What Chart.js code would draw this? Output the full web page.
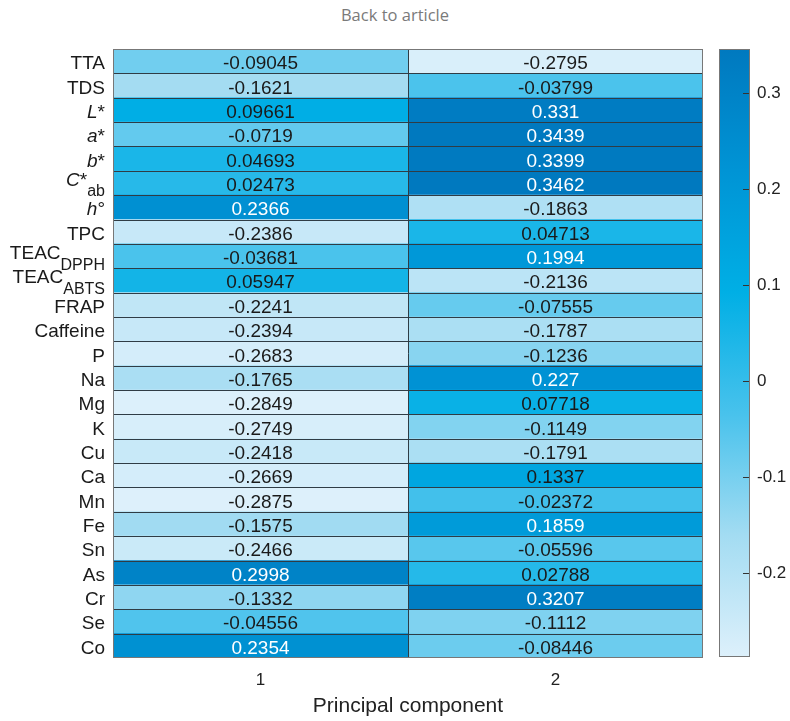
<!DOCTYPE html>
<html>
<head>
<meta charset="utf-8">
<script src="https://cdn.jsdelivr.net/npm/chart.js@4.4.1/dist/chart.umd.min.js"></script>
<style>
  html, body { margin: 0; padding: 0; background: #fff; }
  #wrap { position: relative; width: 790px; height: 721px; overflow: hidden; }
  #back { position: absolute; left: 0; top: 3px; width: 790px; text-align: center;
          font: 16.5px "Open Sans", sans-serif; color: #7a7a7a; }
  #main { position: absolute; left: 0; top: 0; }
  #cbar { position: absolute; left: 700px; top: 0; }
</style>
</head>
<body>
<div id="wrap">
  <div id="back">Back to article</div>
  <canvas id="main" width="712" height="721"></canvas>
  <canvas id="cbar" width="90" height="721"></canvas>
</div>
<script>
// Loadings of each variable on the first two principal components
const categories = ['TTA', 'TDS', 'L*', 'a*', 'b*', 'C*ab', 'h°', 'TPC', 'TEAC DPPH', 'TEAC ABTS',
  'FRAP', 'Caffeine', 'P', 'Na', 'Mg', 'K', 'Cu', 'Ca', 'Mn', 'Fe', 'Sn', 'As', 'Cr', 'Se', 'Co'];
const components = [1, 2];
const pc1 = [-0.09045, -0.1621, 0.09661, -0.0719, 0.04693, 0.02473, 0.2366, -0.2386, -0.03681, 0.05947,
  -0.2241, -0.2394, -0.2683, -0.1765, -0.2849, -0.2749, -0.2418, -0.2669, -0.2875, -0.1575,
  -0.2466, 0.2998, -0.1332, -0.04556, 0.2354];
const pc2 = [-0.2795, -0.03799, 0.331, 0.3439, 0.3399, 0.3462, -0.1863, 0.04713, 0.1994, -0.2136,
  -0.07555, -0.1787, -0.1236, 0.227, 0.07718, -0.1149, -0.1791, 0.1337, -0.02372, 0.1859,
  -0.05596, 0.02788, 0.3207, -0.1112, -0.08446];
const colorbarTicks = [-0.2, -0.1, 0, 0.1, 0.2, 0.3];

const series = [pc1, pc2];
const cmin = Math.min(...pc1, ...pc2);
const cmax = Math.max(...pc1, ...pc2);

// Formatted pieces for labels with italics / subscripts: i = italic, n = normal, s = subscript
const labelParts = {
  'L*': [['L', 'i'], ['*', 'n']],
  'a*': [['a', 'i'], ['*', 'n']],
  'b*': [['b', 'i'], ['*', 'n']],
  'C*ab': [['C', 'i'], ['*', 'n'], ['ab', 's']],
  'h°': [['h', 'i'], ['°', 'n']],
  'TEAC DPPH': [['TEAC', 'n'], ['DPPH', 's']],
  'TEAC ABTS': [['TEAC', 'n'], ['ABTS', 's']]
};

const FAMILY = '"Liberation Sans", Arial, Helvetica, sans-serif';
Chart.defaults.font.family = FAMILY;

// Light-to-dark blue colour map
const cmapStops = [
  [0.0, [221, 240, 251]],
  [0.2, [163, 220, 242]],
  [0.4, [72, 194, 236]],
  [0.6, [0, 175, 229]],
  [0.8, [0, 148, 213]],
  [1.0, [0, 121, 191]]
];
function rgb(c) { return 'rgb(' + c.map(Math.round).join(',') + ')'; }
function colorFor(v) {
  const t = Math.max(0, Math.min(1, (v - cmin) / (cmax - cmin)));
  for (let k = 1; k < cmapStops.length; k++) {
    const [t1, c1] = cmapStops[k];
    const [t0, c0] = cmapStops[k - 1];
    if (t <= t1) {
      const f = (t - t0) / (t1 - t0);
      return rgb(c0.map((a, j) => a + (c1[j] - a) * f));
    }
  }
  return rgb(cmapStops[cmapStops.length - 1][1]);
}

function fontStr(kind) {
  if (kind === 'i') return 'italic 19px ' + FAMILY;
  if (kind === 's') return '16px ' + FAMILY;
  return '19px ' + FAMILY;
}

// Cell grid, value text and row labels
const heatmapDecor = {
  id: 'heatmapDecor',
  afterDatasetsDraw(chart) {
    const { ctx, chartArea: a, scales: { x, y } } = chart;
    ctx.save();
    // inner cell lines
    ctx.strokeStyle = '#2f3c45';
    ctx.lineWidth = 1;
    ctx.beginPath();
    for (let i = 1; i < categories.length; i++) {
      const yy = Math.round((y.getPixelForValue(i - 1) + y.getPixelForValue(i)) / 2) + 0.5;
      ctx.moveTo(a.left, yy);
      ctx.lineTo(a.right, yy);
    }
    for (let c = 1; c < components.length; c++) {
      const xx = Math.round(x.getPixelForValue(components[c - 1] + 0.5)) + 0.5;
      ctx.moveTo(xx, a.top);
      ctx.lineTo(xx, a.bottom);
    }
    ctx.stroke();
    // outer frame
    ctx.strokeStyle = '#777';
    ctx.strokeRect(a.left + 0.5, a.top + 0.5, a.width - 1, a.height - 1);

    // values inside the cells
    ctx.textAlign = 'center';
    ctx.textBaseline = 'alphabetic';
    ctx.font = '19px ' + FAMILY;
    chart.data.datasets.forEach((ds, k) => {
      const meta = chart.getDatasetMeta(k);
      meta.data.forEach((bar, i) => {
        const v = series[k][i];
        const p = bar.getCenterPoint();
        ctx.fillStyle = v > 0.15 ? '#ffffff' : '#1a1a1a';
        ctx.fillText(String(v), p.x, p.y + 8);
      });
    });

    // row labels
    ctx.textAlign = 'left';
    ctx.fillStyle = '#1a1a1a';
    const rightEdge = a.left - 8;
    categories.forEach((lab, i) => {
      const cy = y.getPixelForValue(i);
      const parts = labelParts[lab] || [[lab, 'n']];
      const hasSub = parts.some(p => p[1] === 's');
      let w = 0;
      parts.forEach(([t, k]) => { ctx.font = fontStr(k); w += ctx.measureText(t).width; });
      let xx = rightEdge - w;
      parts.forEach(([t, k]) => {
        ctx.font = fontStr(k);
        let by;
        if (!hasSub) by = cy + 8;
        else by = k === 's' ? cy + 13.5 : cy + 3;
        ctx.fillText(t, xx, by);
        xx += ctx.measureText(t).width;
      });
    });
    ctx.restore();
  }
};

new Chart(document.getElementById('main'), {
  type: 'bar',
  data: {
    labels: categories,
    datasets: components.map((c, k) => ({
      label: 'Component ' + c,
      data: series[k].map(() => [c - 0.5, c + 0.5]),
      backgroundColor: series[k].map(colorFor),
      borderWidth: 0,
      grouped: false,
      barPercentage: 1,
      categoryPercentage: 1
    }))
  },
  options: {
    responsive: false,
    animation: false,
    indexAxis: 'y',
    layout: { padding: { left: 0, right: 9, top: 49, bottom: 0 } },
    plugins: { legend: { display: false }, tooltip: { enabled: false } },
    scales: {
      x: {
        type: 'linear',
        min: 0.5,
        max: 2.5,
        afterBuildTicks: s => { s.ticks = components.map(v => ({ value: v })); },
        grid: { display: false, drawTicks: false },
        border: { display: false },
        ticks: { font: { size: 17 }, color: '#222', padding: 12 },
        title: {
          display: true,
          text: 'Principal component',
          font: { size: 21 },
          color: '#222',
          padding: { top: 4, bottom: 2 }
        },
        afterFit: s => { s.height = 63; }
      },
      y: {
        type: 'category',
        offset: true,
        grid: { display: false, drawTicks: false },
        border: { display: false },
        ticks: { display: false },
        afterFit: s => { s.width = 113; }
      }
    }
  },
  plugins: [heatmapDecor]
});

// Colour bar frame and inner tick marks
const colorbarDecor = {
  id: 'colorbarDecor',
  afterDraw(chart) {
    const { ctx, chartArea: a, scales: { y } } = chart;
    ctx.save();
    ctx.strokeStyle = '#333';
    ctx.lineWidth = 1;
    ctx.beginPath();
    colorbarTicks.forEach(v => {
      const yy = Math.round(y.getPixelForValue(v)) + 0.5;
      ctx.moveTo(a.right - 7, yy);
      ctx.lineTo(a.right, yy);
    });
    ctx.stroke();
    ctx.strokeStyle = '#777';
    ctx.strokeRect(a.left + 0.5, a.top + 0.5, a.width - 1, a.height - 1);
    ctx.restore();
  }
};

new Chart(document.getElementById('cbar'), {
  type: 'bar',
  data: {
    labels: ['scale'],
    datasets: [{
      data: [[cmin, cmax]],
      backgroundColor: ctx => {
        const area = ctx.chart.chartArea;
        if (!area) return 'rgba(0,0,0,0)';
        const g = ctx.chart.ctx.createLinearGradient(0, area.bottom, 0, area.top);
        cmapStops.forEach(([t, c]) => g.addColorStop(t, rgb(c)));
        return g;
      },
      borderWidth: 0,
      barPercentage: 1,
      categoryPercentage: 1
    }]
  },
  options: {
    responsive: false,
    animation: false,
    layout: { padding: { left: 19, right: 0, top: 49, bottom: 64 } },
    plugins: { legend: { display: false }, tooltip: { enabled: false } },
    scales: {
      x: { display: false },
      y: {
        position: 'right',
        min: cmin,
        max: cmax,
        afterBuildTicks: s => { s.ticks = colorbarTicks.map(v => ({ value: v })); },
        grid: { display: false, drawTicks: false },
        border: { display: false },
        ticks: {
          padding: 7,
          font: { size: 17 },
          color: '#222',
          callback: v => String(Math.round(v * 10) / 10)
        },
        afterFit: s => { s.width = 40; }
      }
    }
  },
  plugins: [colorbarDecor]
});
</script>
</body>
</html>
